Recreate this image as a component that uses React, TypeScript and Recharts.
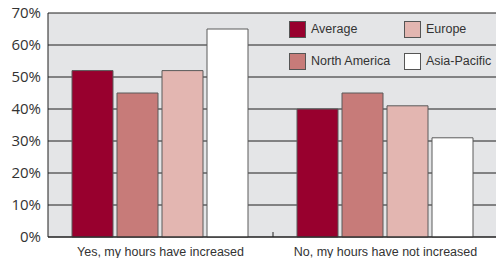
import { BarChart, Bar, XAxis, YAxis, CartesianGrid } from 'recharts';

const CATEGORIES = ['Yes, my hours have increased', 'No, my hours have not increased'];
const SERIES = ['Average', 'North America', 'Europe', 'Asia-Pacific'];
const AVERAGE = [52, 40];
const NORTH_AMERICA = [45, 45];
const EUROPE = [52, 41];
const ASIA_PACIFIC = [65, 31];
const Y_TICKS = [0, 10, 20, 30, 40, 50, 60, 70];

const COLORS = ['#98002e', '#c77b79', '#e3b6b1', '#ffffff'];

const data = CATEGORIES.map((name, i) => ({
  name,
  s0: AVERAGE[i],
  s1: NORTH_AMERICA[i],
  s2: EUROPE[i],
  s3: ASIA_PACIFIC[i],
}));

const TEXT = '#333333';

const XTick = (props: any) => {
  const { x, y, payload, index } = props;
  return (
    <g>
      {index === 0 && (
        <line x1={x + payload.offset} x2={x + payload.offset} y1={y} y2={y - 5} stroke="#222" strokeWidth={1} />
      )}
      <text x={x} y={y + 19} textAnchor="middle" fill={TEXT} fontSize={12.5} fontFamily="Liberation Sans">
        {payload.value}
      </text>
    </g>
  );
};

// legend sits on top of the plot, 2x2, filled column by column
const LegendBox = () => (
  <div
    style={{
      position: 'absolute',
      left: 289,
      top: 21,
      display: 'grid',
      gridTemplateRows: '32px 32px',
      gridTemplateColumns: '115px 100px',
      gridAutoFlow: 'column',
      fontFamily: 'Liberation Sans',
      fontSize: 12.5,
      color: TEXT,
    }}
  >
    {SERIES.map((s, i) => (
      <div key={s} style={{ display: 'flex', alignItems: 'flex-start' }}>
        <span
          style={{
            width: 17,
            height: 17,
            background: COLORS[i],
            border: '1px solid #555',
            marginRight: 5,
            boxSizing: 'border-box',
            display: 'inline-block',
          }}
        />
        <span style={{ lineHeight: '17px' }}>{s}</span>
      </div>
    ))}
  </div>
);

export default function App() {
  return (
    <div style={{ position: 'absolute', left: 0, top: 0, width: 496, height: 258, overflow: 'hidden', background: '#fff' }}>
      <BarChart
        width={500}
        height={258}
        data={data}
        margin={{ top: 13, right: 2, left: 0, bottom: 0 }}
        barCategoryGap={24}
        barGap={4}
      >
        <CartesianGrid vertical={false} fill="#e4e5e7" stroke="#1e1e1e" strokeWidth={1} />
        <XAxis
          dataKey="name"
          height={21}
          tickSize={0}
          tickMargin={0}
          tickLine={false}
          axisLine={{ stroke: '#1e1e1e' }}
          tick={<XTick />}
          interval={0}
        />
        <YAxis
          width={48}
          domain={[0, 70]}
          ticks={Y_TICKS}
          tickLine={false}
          tickSize={0}
          tickMargin={7}
          axisLine={{ stroke: '#1e1e1e' }}
          tickFormatter={(v) => `${v}%`}
          tick={{ fill: TEXT, fontSize: 15, fontFamily: 'Open Sans' }}
        />
        {SERIES.map((s, i) => (
          <Bar key={s} dataKey={`s${i}`} name={s} fill={COLORS[i]} stroke="#5a5a5a" strokeWidth={1} isAnimationActive={false} />
        ))}
      </BarChart>
      <LegendBox />
    </div>
  );
}
